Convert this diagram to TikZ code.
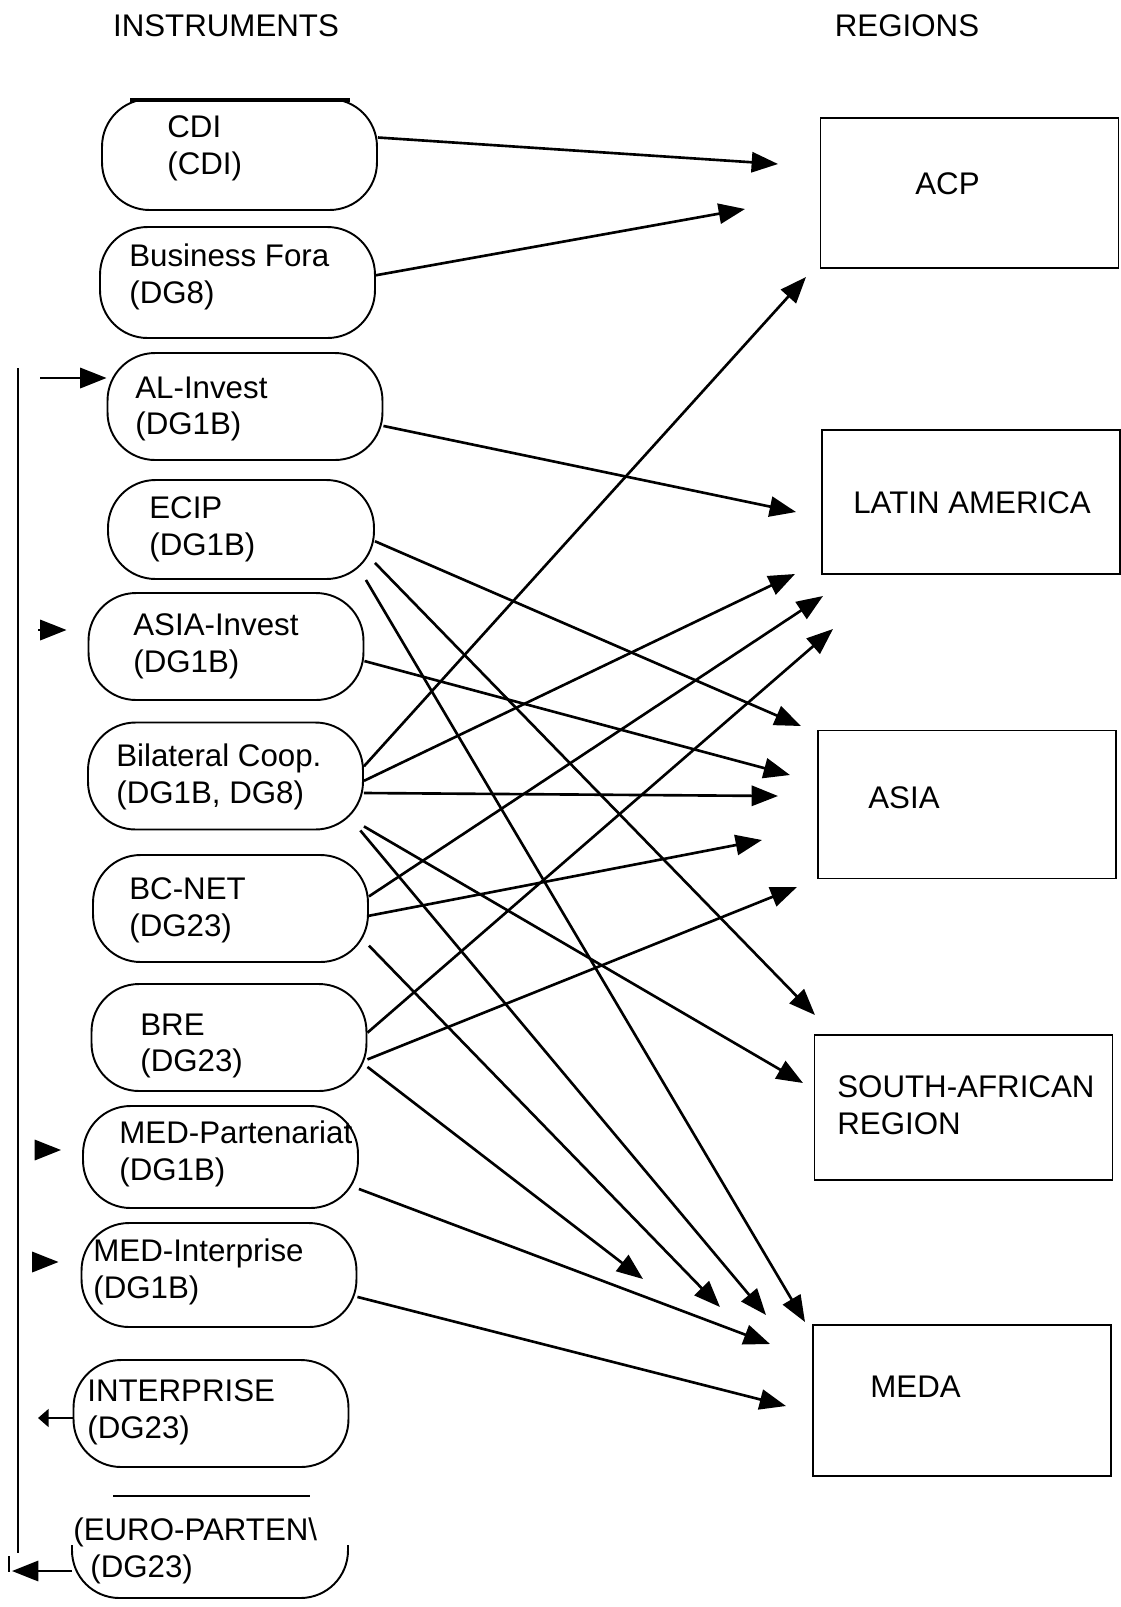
\documentclass[tikz,border=0pt]{standalone}
\usepackage{fontspec}
\setmainfont{Liberation Sans}
\usetikzlibrary{arrows.meta}

\begin{document}
\begin{tikzpicture}[
    x=0.02cm, y=-0.02cm,
    font=\fontsize{17.8}{21}\selectfont,
    instr/.style={rectangle, rounded corners=0.95cm, draw=black, line width=1.1pt,
                minimum width=5.5cm, minimum height=2.14cm},
    region/.style={rectangle, draw=black, line width=0.85pt,
                minimum width=5.96cm, minimum height=2.96cm},
    txt/.style={anchor=west, align=left, inner sep=0pt},
    arrow/.style={-{Triangle[length=15pt,width=11.5pt]}, line width=1.5pt},
    bus/.style={line width=0.9pt}
]
\useasboundingbox (0,0) rectangle (1121,1607);

% headings
\node (hinstr) at (226,26) {INSTRUMENTS};
\node (hreg) at (907,26) {REGIONS};

% instruments
\node[instr, minimum height=2.22cm] (cdi) at (239.5,154.5) {};
\node[instr, minimum height=2.22cm] (biz) at (237.5,282.5) {};
\node[instr] (alinv) at (245,406.5) {};
\node[instr, minimum width=5.32cm, minimum height=1.98cm] (ecip) at (241,529.5) {};
\node[instr] (asinv) at (226,646.5) {};
\node[instr] (bil) at (225.5,776) {};
\node[instr] (bcnet) at (230.5,908.5) {};
\node[instr] (bre) at (229,1037.5) {};
\node[instr, minimum height=2.04cm] (medp) at (220.5,1157) {};
\node[instr, minimum height=2.08cm] (medi) at (219,1275) {};
\node[instr] (inter) at (211,1413.5) {};

\node[txt] (cdi-t) at (167,148) {CDI\\(CDI)};
\node[txt] (biz-t) at (129,277) {Business Fora\\(DG8)};
\node[txt] (alinv-t) at (135,409) {AL-Invest\\(DG1B)};
\node[txt] (ecip-t) at (149,529) {ECIP\\(DG1B)};
\node[txt] (asinv-t) at (133,646) {ASIA-Invest\\(DG1B)};
\node[txt] (bil-t) at (116,777) {Bilateral Coop.\\(DG1B, DG8)};
\node[txt] (bcnet-t) at (129,910) {BC-NET\\(DG23)};
\node[txt] (bre-t) at (140,1046) {BRE\\(DG23)};
\node[txt] (medp-t) at (119,1154) {MED-Partenariat\\(DG1B)};
\node[txt] (medi-t) at (93,1272) {MED-Interprise\\(DG1B)};
\node[txt] (inter-t) at (87,1412) {INTERPRISE\\(DG23)};
\node[txt] (euro-t) at (73,1551) {(EURO-PARTEN\textbackslash\\\hspace*{0.34cm}(DG23)};

% heavy top of CDI, open EURO-PARTEN box
\draw[line width=2.2pt] (130,100) -- (350,100);
\draw[line width=1.1pt] (113,1496) -- (310,1496);
\draw[line width=1.1pt, rounded corners=0.95cm] (72,1545) -- (72,1598) -- (348,1598) -- (348,1545);

% regions
\node[region, minimum height=3.0cm] (acp) at (969.5,193) {};
\node[region, minimum height=2.88cm] (lat) at (971,502) {};
\node[region] (asia) at (967,804.5) {};
\node[region, minimum height=2.9cm] (sa) at (963.5,1107.5) {};
\node[region, minimum height=3.02cm] (meda) at (962,1400.5) {};

\node[txt] (acp-t) at (915,184) {ACP};
\node[txt] (lat-t) at (853,503) {LATIN AMERICA};
\node[txt] (asia-t) at (868,798) {ASIA};
\node[txt] (sa-t) at (837,1105) {SOUTH-AFRICAN\\REGION};
\node[txt] (meda-t) at (870,1387) {MEDA};

% arrow tips in front of the regions
\coordinate (acp-a) at (778,164);
\coordinate (acp-b) at (745,209);
\coordinate (acp-c) at (806,277);
\coordinate (lat-a) at (796,512);
\coordinate (lat-b) at (795,574);
\coordinate (lat-c) at (823,596);
\coordinate (lat-d) at (833,629);
\coordinate (asia-a) at (801,726);
\coordinate (asia-b) at (790,775);
\coordinate (asia-c) at (778,796);
\coordinate (asia-d) at (762,840);
\coordinate (asia-e) at (797,887);
\coordinate (sa-a) at (815,1015);
\coordinate (sa-b) at (803,1083);
\coordinate (meda-a) at (643,1279);
\coordinate (meda-b) at (720,1307);
\coordinate (meda-c) at (766,1315);
\coordinate (meda-d) at (805,1322);
\coordinate (meda-e) at (770,1344);
\coordinate (meda-f) at (786,1406);

\draw[arrow] (cdi.7) -- (acp-a);
\draw[arrow] (biz.3) -- (acp-b);
\draw[arrow] (alinv.-8) -- (lat-a);
\draw[arrow] (ecip.-5) -- (asia-a);
\draw[arrow] (ecip.-14) -- (sa-a);
\draw[arrow] (ecip.-22) -- (meda-d);
\draw[arrow] (asinv.-6) -- (asia-b);
\draw[arrow] (bil.4) -- (acp-c);
\draw[arrow] (bil.-2) -- (lat-b);
\draw[arrow] (bil.-7) -- (asia-c);
\draw[arrow] (bil.-20) -- (sa-b);
\draw[arrow] (bil.-22) -- (meda-c);
\draw[arrow] (bcnet.5) -- (lat-c);
\draw[arrow] (bcnet.-3) -- (asia-d);
\draw[arrow] (bcnet.-15) -- (meda-b);
\draw[arrow] (bre.2) -- (lat-d);
\draw[arrow] (bre.-9) -- (asia-e);
\draw[arrow] (bre.-12) -- (meda-a);
\draw[arrow] (medp.-13) -- (meda-e);
\draw[arrow] (medi.-9) -- (meda-f);

% feedback line on the left
\coordinate (bus-top) at (18,368);
\coordinate (bus-bot) at (18,1553);
\coordinate (al-src) at (40,378);
\coordinate (asinv-src) at (38,630);
\coordinate (medp-src) at (38,1150);
\coordinate (medi-src) at (38,1262);
\coordinate (inter-dst) at (38,1418);
\coordinate (euro-src) at (72,1571);
\coordinate (euro-dst) at (12,1571);

\draw[bus] (bus-top) -- (bus-bot);
\draw[bus] (9,1556) -- (9,1572);
\draw[arrow] (al-src) -- (alinv.west |- al-src);
\draw[arrow, shorten >=0.42cm] (asinv-src) -- (asinv.west |- asinv-src);
\draw[arrow, shorten >=0.42cm] (medp-src) -- (medp.west |- medp-src);
\draw[arrow, shorten >=0.44cm] (medi-src) -- (medi.west |- medi-src);
\draw[line width=1.5pt, -{Triangle[length=6pt,width=10pt]}] (inter.west |- inter-dst) -- (inter-dst);
\draw[arrow] (euro-src) -- (euro-dst);

\end{tikzpicture}
\end{document}
